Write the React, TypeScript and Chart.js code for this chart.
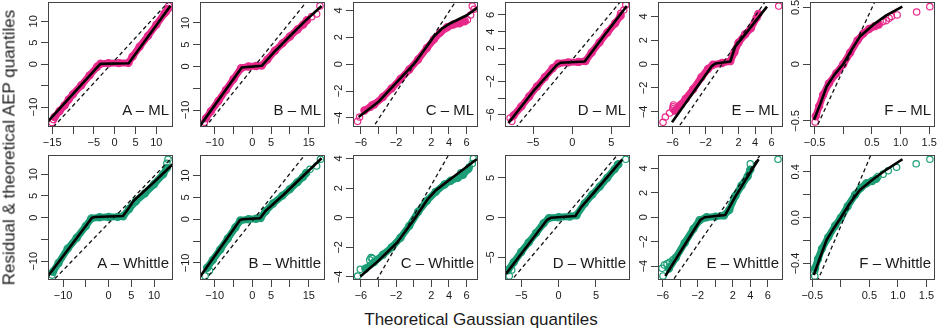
import React, { useEffect, useRef } from 'react';
import { Chart, registerables } from 'chart.js';

Chart.register(...registerables);

type P = [number, number];

const PINK = '#E7298A';
const TEAL = '#1B9E77';
const FONT = "'Liberation Sans', Arial, Helvetica, sans-serif";

// ---------- shared tick sets ----------
const T10 = [-10, -5, 0, 5, 10];
const T10_L = ['−10', '', '0', '5', '10'];
const T4 = [-4, -2, 0, 2, 4];
const T4_L = ['−4', '−2', '0', '2', '4'];
const T6 = [-6, -4, -2, 0, 2, 4, 6];
const T6_L = ['−6', '', '−2', '', '2', '4', '6'];
const T5 = [-5, 0, 5];
const T5_L = ['−5', '0', '5'];
const TF = [-0.5, 0, 0.5, 1, 1.5];
const TF_L = ['−0.5', '', '0.5', '1.0', '1.5'];
const TB = [-10, -5, 0, 5, 10, 15];
const TB_L = ['−10', '', '0', '5', '', '15'];
const TA = [-15, -10, -5, 0, 5, 10];
const TA_L = ['−15', '', '−5', '0', '5', '10'];

// ---------- A – ML ----------
const A_ML_SAMPLE: P[] = [[-14.4, -12.3], [-13.2, -10.9], [-12, -9.6], [-11, -8.2], [-10, -7.0], [-8, -4.9], [-6, -2.6], [-4.2, -0.6], [-3.4, 0.1], [-1.5, 0.2], [1, 0.25], [3.3, 0.3], [4.3, 1.8], [6, 4.1], [8, 6.6], [10, 9.2], [12, 11.9], [12.8, 12.9]];
const A_ML_TAIL: P[] = [[-15.05, -13.6], [-14.7, -12.9], [12.35, 12.2], [12.98, 13.6]];
const A_ML_AEP: P[] = [[-16.0, -13.35], [-3.44, 0.07], [3.37, 0.23], [8, 6.4], [13.4, 13.6]];
const A_ML_GAUSS: P[] = [[-17, -17.08], [15, 16.74]];

// ---------- B – ML ----------
const B_ML_SAMPLE: P[] = [[-12.3, -11.9], [-11, -10.3], [-9, -7.9], [-7, -5.4], [-5, -2.9], [-3, -0.4], [-1, 0.0], [1, 0.1], [2.5, 0.2], [4, 1.6], [6, 3.6], [8, 5.3], [10, 6.9], [12, 8.5], [13.5, 9.6], [14.5, 10.6]];
const B_ML_TAIL: P[] = [[-12.73, -12.8], [15.76, 11.44], [17.08, 12.06], [17.96, 13.9]];
const B_ML_AEP: P[] = [[-13.87, -13.6], [-2.81, -0.23], [2.49, 0.16], [6, 3.5], [10, 7.0], [14, 10.4], [18.4, 13.9]];
const B_ML_GAUSS: P[] = [[-15, -16.59], [20, 20.85]];

// ---------- C – ML ----------
const C_ML_SAMPLE: P[] = [[-5.6, -3.45], [-4.5, -3.0], [-3.5, -2.45], [-2.5, -1.8], [-1.5, -1.1], [-0.5, -0.4], [0.5, 0.35], [1.5, 1.2], [2.3, 1.85], [3, 2.35], [3.8, 2.75], [4.5, 2.95], [5.2, 3.05], [5.8, 3.2]];
const C_ML_TAIL: P[] = [[-6.38, -4.26], [-6.15, -3.94], [-4.93, -3.2], [-4.75, -3.05], [5.5, 3.2], [6.1, 3.3], [6.46, 3.66], [6.84, 4.09], [6.65, 4.33]];
const C_ML_AEP: P[] = [[-6.26, -3.94], [-4, -2.8], [-2, -1.4], [0, 0.0], [0.39, 0.32], [2.28, 2.05], [3.2, 2.65], [4.18, 3.05], [6.08, 3.66], [7.29, 4.23]];
const C_ML_GAUSS: P[] = [[-7, -7.08], [8, 7.9]];

// ---------- D – ML ----------
const D_ML_SAMPLE: P[] = [[-7.5, -6.1], [-6.5, -5.0], [-5.5, -3.8], [-4.5, -2.6], [-3.5, -1.5], [-2.5, -0.4], [-1.8, 0.15], [-0.5, 0.3], [0.8, 0.35], [1.7, 0.45], [2.5, 1.5], [3.5, 2.7], [4.5, 3.9], [5.5, 5.0], [6.2, 5.9]];
const D_ML_TAIL: P[] = [[-7.94, -6.4], [-7.72, -6.8], [6.2, 6.2], [6.6, 6.6], [6.86, 7.2]];
const D_ML_AEP: P[] = [[-8.16, -7.0], [-5, -3.2], [-2.0, -0.05], [-1.5, 0.25], [1.6, 0.4], [4, 3.4], [6.99, 7.08]];
const D_ML_GAUSS: P[] = [[-9, -9.57], [8, 9.66]];

// ---------- E – ML ----------
const E_ML_SAMPLE: P[] = [[-5.7, -3.9], [-5, -3.4], [-4.4, -2.9], [-3.5, -2.1], [-2.5, -1.1], [-1.7, -0.4], [-1.1, -0.05], [0, 0.1], [1.0, 0.25], [1.5, 1.0], [2, 1.8], [2.8, 2.5], [3.5, 3.0], [4.2, 3.9], [4.4, 4.2]];
const E_ML_TAIL: P[] = [[-7.15, -4.88], [-6.87, -4.43], [-6.35, -4.1], [-5.95, -3.75], [-5.92, -3.58], [-5.88, -3.42], [6.87, 4.87]];
const E_ML_AEP: P[] = [[-6.06, -4.88], [-3.03, -1.92], [-1.21, -0.14], [-0.8, 0.05], [1.0, 0.22], [1.6, 1.47], [3.03, 2.71], [5.45, 4.82]];
const E_ML_GAUSS: P[] = [[-8, -8.01], [8, 8.0]];

// ---------- F – ML ----------
const F_ML_SAMPLE: P[] = [[-0.48, -0.46], [-0.42, -0.37], [-0.35, -0.27], [-0.25, -0.17], [-0.12, -0.08], [0, 0.0], [0.12, 0.1], [0.25, 0.21], [0.35, 0.27], [0.45, 0.31], [0.55, 0.335], [0.62, 0.35]];
const F_ML_TAIL: P[] = [[-0.49, -0.51], [0.69, 0.375], [0.75, 0.384], [0.8, 0.405], [0.84, 0.42], [0.94, 0.434], [1.28, 0.46], [1.51, 0.507]];
const F_ML_AEP: P[] = [[-0.51, -0.49], [-0.4, -0.35], [-0.29, -0.197], [-0.15, -0.09], [0, 0], [0.15, 0.13], [0.29, 0.243], [0.52, 0.346], [0.75, 0.43], [1.03, 0.507]];
const F_ML_GAUSS: P[] = [[-0.7, -0.812], [0.7, 0.713]];

// ---------- A – Whittle ----------
const A_W_SAMPLE: P[] = [[-12.2, -12.4], [-11, -10.4], [-9, -7.1], [-7, -4.6], [-5, -1.9], [-3.8, -0.15], [-2, 0.1], [0, 0.15], [2, 0.2], [3.2, 0.35], [4.5, 2.0], [6, 3.8], [8, 5.6], [10, 7.7], [12, 10.0], [12.8, 11.4]];
const A_W_TAIL: P[] = [[-12.44, -13.17], [12.8, 12.5], [13.05, 13.4]];
const A_W_AEP: P[] = [[-13.3, -13.4], [-3.65, 0], [-3.0, 0.15], [3.16, 0.39], [4.2, 1.9], [5.5, 3.9], [10, 8.2], [14.15, 12.34]];
const A_W_GAUSS: P[] = [[-15, -17.46], [16, 16.04]];

// ---------- B – Whittle ----------
const B_W_SAMPLE: P[] = [[-12, -11.1], [-10.5, -9.3], [-8.5, -6.9], [-6.5, -4.4], [-4.5, -1.9], [-3.2, -0.3], [-1, 0.0], [1, 0.1], [2.2, 0.3], [3.5, 1.8], [5.5, 3.6], [8, 5.4], [10, 6.9], [12, 8.5], [13.5, 9.7], [14.3, 10.6]];
const B_W_TAIL: P[] = [[-12.55, -12.97], [-11.4, -11.76], [15.3, 11.44], [17.08, 12.2], [18.1, 13.73]];
const B_W_AEP: P[] = [[-13.87, -13.14], [-3.26, -0.16], [-2.5, 0.0], [2.04, 0.23], [3.5, 1.9], [8.22, 5.56], [13, 9.5], [18.4, 13.96]];
const B_W_GAUSS: P[] = [[-15, -16.64], [20, 21.3]];

// ---------- C – Whittle ----------
const C_W_SAMPLE: P[] = [[-5.5, -3.45], [-4.5, -3.0], [-3.5, -2.5], [-2.5, -2.0], [-1.5, -1.35], [-0.5, -0.55], [0.5, 0.4], [1.5, 1.15], [2.5, 1.75], [3.5, 2.25], [4.2, 2.5], [5, 2.7], [5.6, 2.9], [6.2, 3.3]];
const C_W_TAIL: P[] = [[-6.38, -3.94], [-6.07, -3.49], [-5.0, -2.85], [-4.85, -2.7], [-4.7, -2.75], [5.35, 3.03], [6.3, 3.43], [6.65, 3.66], [6.77, 4.0]];
const C_W_AEP: P[] = [[-6.07, -3.98], [-4, -2.9], [-1.9, -1.69], [0, -0.16], [1.52, 1.2], [2.5, 1.85], [4, 2.53], [7.14, 3.95]];
const C_W_GAUSS: P[] = [[-7, -7.11], [8, 8.43]];

// ---------- D – Whittle ----------
const D_W_SAMPLE: P[] = [[-6.8, -6.6], [-6, -5.6], [-5, -4.3], [-4, -3.1], [-3, -1.9], [-2, -0.7], [-1.3, -0.05], [0, 0.05], [1.5, 0.15], [2.4, 0.3], [3.5, 1.8], [4.5, 2.9], [5.5, 3.9], [6.5, 5.0], [7.5, 6.1], [8, 6.7]];
const D_W_TAIL: P[] = [[-6.6, -7.31], [-6.27, -6.56], [7.86, 6.6], [8.98, 7.33]];
const D_W_AEP: P[] = [[-7.04, -7.06], [-4, -3.3], [-1.56, -0.29], [-1, 0.0], [2.25, 0.21], [3, 1.3], [5.5, 4.0], [8.53, 7.33]];
const D_W_GAUSS: P[] = [[-9, -10.85], [11, 11.35]];

// ---------- E – Whittle ----------
const E_W_SAMPLE: P[] = [[-5.3, -4.2], [-4.5, -3.3], [-3.5, -2.1], [-2.5, -0.95], [-1.8, -0.25], [-1, 0.0], [0, 0.05], [1, 0.15], [1.6, 0.6], [2.3, 1.75], [3, 2.6], [3.7, 3.35], [4, 3.9]];
const E_W_TAIL: P[] = [[-5.98, -4.81], [-6.09, -4.18], [-5.83, -3.91], [-5.52, -3.82], [-5.22, -3.7], [-4.84, -3.48], [4.0, 4.37], [7.17, 4.75]];
const E_W_AEP: P[] = [[-5.71, -4.81], [-3.5, -2.27], [-1.71, -0.22], [-1.2, 0.0], [1.14, 0.19], [2.29, 1.69], [3.5, 3.1], [4.95, 4.75]];
const E_W_GAUSS: P[] = [[-7, -7.39], [8, 8.05]];

// ---------- F – Whittle ----------
const F_W_SAMPLE: P[] = [[-0.45, -0.44], [-0.4, -0.36], [-0.33, -0.27], [-0.22, -0.17], [-0.1, -0.07], [0, 0.0], [0.12, 0.1], [0.25, 0.2], [0.35, 0.26], [0.45, 0.3], [0.55, 0.32], [0.62, 0.34]];
const F_W_TAIL: P[] = [[-0.456, -0.509], [-0.456, -0.46], [0.65, 0.36], [0.74, 0.38], [0.83, 0.41], [0.977, 0.44], [1.32, 0.47], [1.56, 0.51]];
const F_W_AEP: P[] = [[-0.474, -0.5], [-0.35, -0.33], [-0.25, -0.195], [-0.12, -0.09], [0, 0], [0.15, 0.12], [0.333, 0.242], [0.567, 0.335], [0.8, 0.42], [1.08, 0.51]];
const F_W_GAUSS: P[] = [[-0.7, -0.897], [0.8, 0.869]];

type PanelCfg = {
  label: string; color: string; row: number; col: number;
  sample: P[]; tail: P[]; aep: P[]; gauss: P[];
  xlim: number[]; ylim: number[];
  xticks: number[]; xlabels: string[]; yticks: number[]; ylabels: string[];
};

const PANELS: PanelCfg[] = [
  { label: 'A – ML', color: PINK, row: 0, col: 0, sample: A_ML_SAMPLE, tail: A_ML_TAIL, aep: A_ML_AEP, gauss: A_ML_GAUSS, xlim: [-16.0, 14.0], ylim: [-14.65, 14.5], xticks: TA, xlabels: TA_L, yticks: T10, ylabels: T10_L },
  { label: 'B – ML', color: PINK, row: 0, col: 1, sample: B_ML_SAMPLE, tail: B_ML_TAIL, aep: B_ML_AEP, gauss: B_ML_GAUSS, xlim: [-13.9, 19.3], ylim: [-13.9, 14.8], xticks: TB, xlabels: TB_L, yticks: T10, ylabels: T10_L },
  { label: 'C – ML', color: PINK, row: 0, col: 2, sample: C_ML_SAMPLE, tail: C_ML_TAIL, aep: C_ML_AEP, gauss: C_ML_GAUSS, xlim: [-6.9, 7.3], ylim: [-4.68, 4.63], xticks: T6, xlabels: T6_L, yticks: T4, ylabels: T4_L },
  { label: 'D – ML', color: PINK, row: 0, col: 3, sample: D_ML_SAMPLE, tail: D_ML_TAIL, aep: D_ML_AEP, gauss: D_ML_GAUSS, xlim: [-8.6, 7.4], ylim: [-7.48, 7.56], xticks: T5, xlabels: T5_L, yticks: T6, ylabels: T6_L },
  { label: 'E – ML', color: PINK, row: 0, col: 4, sample: E_ML_SAMPLE, tail: E_ML_TAIL, aep: E_ML_AEP, gauss: E_ML_GAUSS, xlim: [-7.76, 7.39], ylim: [-5.27, 5.21], xticks: T6, xlabels: T6_L, yticks: T4, ylabels: T4_L },
  { label: 'F – ML', color: PINK, row: 0, col: 5, sample: F_ML_SAMPLE, tail: F_ML_TAIL, aep: F_ML_AEP, gauss: F_ML_GAUSS, xlim: [-0.58, 1.6], ylim: [-0.554, 0.548], xticks: TF, xlabels: TF_L, yticks: [-0.5, 0, 0.5], ylabels: ['−0.5', '0', '0.5'] },
  { label: 'A – Whittle', color: TEAL, row: 1, col: 0, sample: A_W_SAMPLE, tail: A_W_TAIL, aep: A_W_AEP, gauss: A_W_GAUSS, xlim: [-13.32, 14.15], ylim: [-14.3, 14.4], xticks: T10, xlabels: T10_L, yticks: T10, ylabels: T10_L },
  { label: 'B – Whittle', color: TEAL, row: 1, col: 1, sample: B_W_SAMPLE, tail: B_W_TAIL, aep: B_W_AEP, gauss: B_W_GAUSS, xlim: [-13.9, 19.3], ylim: [-13.9, 14.7], xticks: TB, xlabels: TB_L, yticks: T10, ylabels: T10_L },
  { label: 'C – Whittle', color: TEAL, row: 1, col: 2, sample: C_W_SAMPLE, tail: C_W_TAIL, aep: C_W_AEP, gauss: C_W_GAUSS, xlim: [-6.9, 7.3], ylim: [-4.21, 4.24], xticks: T6, xlabels: T6_L, yticks: T4, ylabels: T4_L },
  { label: 'D – Whittle', color: TEAL, row: 1, col: 3, sample: D_W_SAMPLE, tail: D_W_TAIL, aep: D_W_AEP, gauss: D_W_GAUSS, xlim: [-7.17, 9.55], ylim: [-7.82, 7.87], xticks: T5, xlabels: T5_L, yticks: T5, ylabels: T5_L },
  { label: 'E – Whittle', color: TEAL, row: 1, col: 4, sample: E_W_SAMPLE, tail: E_W_TAIL, aep: E_W_AEP, gauss: E_W_GAUSS, xlim: [-6.55, 7.74], ylim: [-5.14, 5.1], xticks: T6, xlabels: T6_L, yticks: T4, ylabels: T4_L },
  { label: 'F – Whittle', color: TEAL, row: 1, col: 5, sample: F_W_SAMPLE, tail: F_W_TAIL, aep: F_W_AEP, gauss: F_W_GAUSS, xlim: [-0.54, 1.65], ylim: [-0.544, 0.547], xticks: TF, xlabels: TF_L, yticks: [-0.4, -0.2, 0, 0.2, 0.4], ylabels: ['−0.4', '', '0.0', '', '0.4'] },
];

// ---------- layout ----------
const BOX = 125;
const YW = 40;
const PT = 10;
const PR = 14;
const XH = 30;
const COL_LEFT = [48, 200, 353, 505, 658, 810];
const ROW_TOP = [2, 155];
const AXIS_COLOR = '#444';
const TEXT_COLOR = '#1a1a1a';
const TICK_SIZE = 11;

const boxPlugin = {
  id: 'rbox',
  afterDraw(chart: any) {
    const { ctx, chartArea } = chart;
    const l = Math.round(chartArea.left) + 0.5;
    const t = Math.round(chartArea.top) + 0.5;
    const r = Math.round(chartArea.right) - 0.5;
    const b = Math.round(chartArea.bottom) - 0.5;
    ctx.save();
    ctx.strokeStyle = AXIS_COLOR;
    ctx.lineWidth = 1;
    ctx.strokeRect(l, t, r - l, b - t);
    ctx.restore();
  },
};

function Panel({ cfg }: { cfg: PanelCfg }) {
  const ref = useRef<HTMLCanvasElement>(null);
  const left = COL_LEFT[cfg.col];
  const top = ROW_TOP[cfg.row];
  const W = YW + BOX + PR;
  const H = PT + BOX + XH;

  useEffect(() => {
    const canvas = ref.current!;
    const m = document.createElement('canvas').getContext('2d')!;
    m.font = `${TICK_SIZE}px ${FONT}`;
    const widest = Math.max(...cfg.ylabels.map((l) => m.measureText(l).width));
    const pts = (a: P[]) => a.map(([x, y]) => ({ x, y }));
    const font = { family: FONT, size: TICK_SIZE };
    const chart = new Chart(canvas, {
      type: 'scatter',
      data: {
        datasets: [
          {
            data: pts(cfg.sample), showLine: true, borderColor: cfg.color, borderWidth: 7,
            borderCapStyle: 'round', borderJoinStyle: 'round',
            pointRadius: 3.6, pointBorderWidth: 1.2, pointBorderColor: cfg.color,
            pointBackgroundColor: 'rgba(255,255,255,0)', order: 4,
          },
          {
            data: pts(cfg.tail), showLine: false, pointRadius: 3.2, pointBorderWidth: 1.2,
            pointBorderColor: cfg.color, pointBackgroundColor: 'rgba(255,255,255,0)',
            borderColor: cfg.color, backgroundColor: 'rgba(255,255,255,0)', order: 3,
          },
          {
            data: pts(cfg.aep), showLine: true, borderColor: '#000', borderWidth: 2.6,
            borderJoinStyle: 'round', pointRadius: 0, order: 2,
          },
          {
            data: pts(cfg.gauss), showLine: true, borderColor: '#111', borderWidth: 1.3,
            borderDash: [4, 3], pointRadius: 0, clip: 0, order: 1,
          },
        ] as any,
      },
      options: {
        animation: false,
        responsive: false,
        devicePixelRatio: 1,
        events: [],
        layout: { padding: { top: PT, right: PR, left: 0, bottom: 0 } },
        plugins: { legend: { display: false }, tooltip: { enabled: false } },
        scales: {
          x: {
            type: 'linear', position: 'bottom', min: cfg.xlim[0], max: cfg.xlim[1],
            afterBuildTicks: (s: any) => { s.ticks = cfg.xticks.map((v) => ({ value: v })); },
            afterFit: (s: any) => { s.height = XH; },
            ticks: {
              autoSkip: false, maxRotation: 0, minRotation: 0, padding: 2, color: TEXT_COLOR, font,
              callback: (_v: any, i: number) => cfg.xlabels[i] ?? '',
            },
            grid: { drawOnChartArea: false, drawTicks: true, tickLength: 7, tickColor: AXIS_COLOR, tickWidth: 1, color: AXIS_COLOR },
            border: { display: false },
          },
          y: {
            type: 'linear', position: 'left', min: cfg.ylim[0], max: cfg.ylim[1],
            afterBuildTicks: (s: any) => { s.ticks = cfg.yticks.map((v) => ({ value: v })); },
            afterFit: (s: any) => { s.width = YW; },
            ticks: {
              autoSkip: false, minRotation: 90, maxRotation: 90, crossAlign: 'center',
              padding: 14.5 - 7 - widest / 2, color: TEXT_COLOR, font,
              callback: (_v: any, i: number) => cfg.ylabels[i] ?? '',
            },
            grid: { drawOnChartArea: false, drawTicks: true, tickLength: 7, tickColor: AXIS_COLOR, tickWidth: 1, color: AXIS_COLOR },
            border: { display: false },
          },
        },
      } as any,
      plugins: [boxPlugin],
    });
    return () => chart.destroy();
  }, [cfg]);

  return (
    <>
      <canvas
        ref={ref}
        width={W}
        height={H}
        style={{ position: 'absolute', left: left - YW, top: top - PT, width: W, height: H }}
      />
      <div
        style={{
          position: 'absolute', left, top: top + BOX - 12 - 12.7, width: BOX - 4,
          textAlign: 'right', font: `15px/15px ${FONT}`, color: TEXT_COLOR, whiteSpace: 'nowrap',
        }}
      >
        {cfg.label}
      </div>
    </>
  );
}

export default function App() {
  return (
    <div style={{ position: 'absolute', left: 0, top: 0, width: 937, height: 334, overflow: 'hidden', background: '#fff' }}>
      {PANELS.map((p) => (
        <Panel key={p.label} cfg={p} />
      ))}
      <div
        style={{
          position: 'absolute', left: 481 - 300, top: 325 - 14.4, width: 600, textAlign: 'center',
          font: `17px/17px ${FONT}`, color: TEXT_COLOR, whiteSpace: 'nowrap',
        }}
      >
        Theoretical Gaussian quantiles
      </div>
      <div
        style={{
          position: 'absolute', left: 9.1 - 160, top: 147.5 - 8.5, width: 320, height: 17, textAlign: 'center',
          font: `17px/17px ${FONT}`, color: TEXT_COLOR, whiteSpace: 'nowrap',
          transform: 'rotate(-90deg)', transformOrigin: '50% 50%',
        }}
      >
        Residual &amp; theoretical AEP quantiles
      </div>
    </div>
  );
}
